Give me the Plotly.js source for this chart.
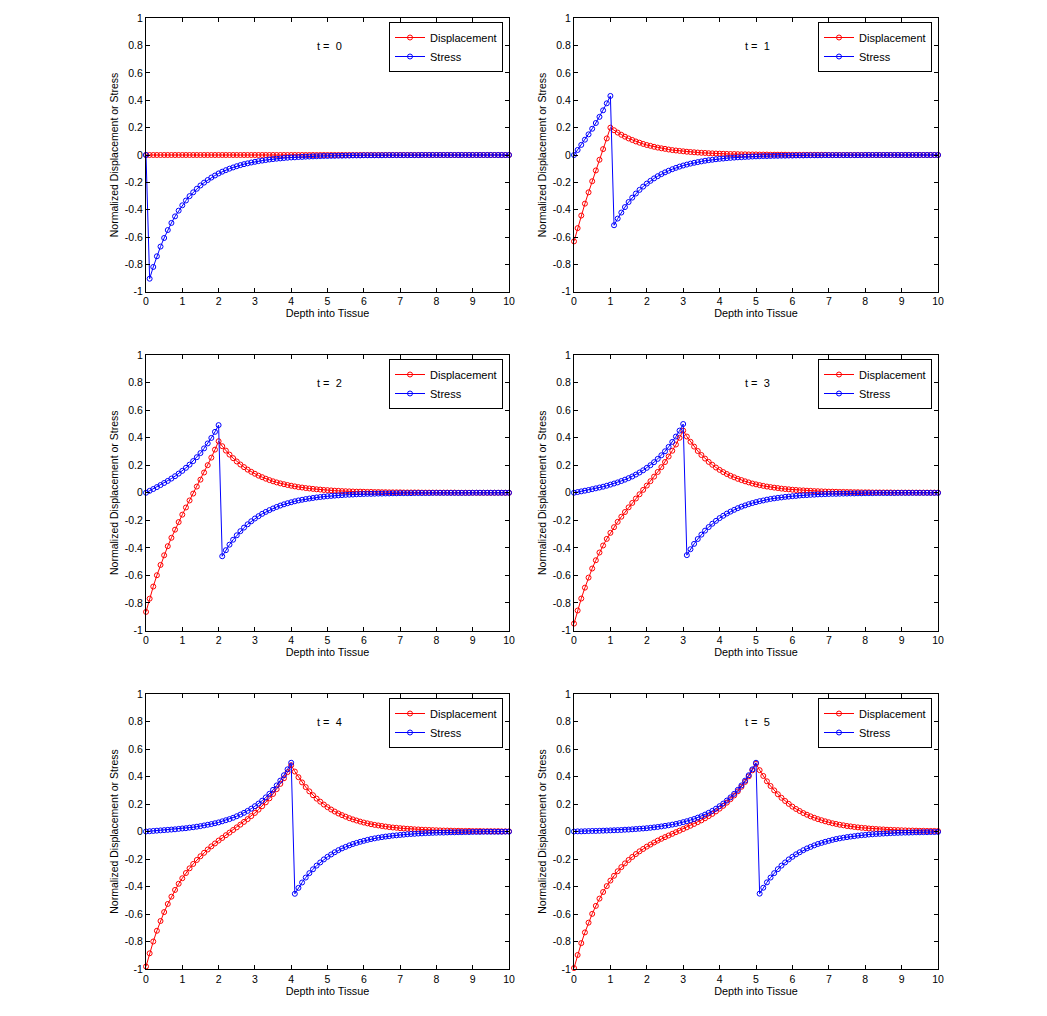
<!DOCTYPE html>
<html><head><meta charset="utf-8">
<script src="https://cdn.plot.ly/plotly-3.0.1.min.js"></script>
<style>html,body{margin:0;padding:0;background:#fff}</style>
</head><body>
<div id="chart" style="width:1047px;height:1016px"></div>
<script>
const depth = [
0,0.1,0.2,0.3,0.4,0.5,0.6,0.7,0.8,0.9,
1,1.1,1.2,1.3,1.4,1.5,1.6,1.7,1.8,1.9,
2,2.1,2.2,2.3,2.4,2.5,2.6,2.7,2.8,2.9,
3,3.1,3.2,3.3,3.4,3.5,3.6,3.7,3.8,3.9,
4,4.1,4.2,4.3,4.4,4.5,4.6,4.7,4.8,4.9,
5,5.1,5.2,5.3,5.4,5.5,5.6,5.7,5.8,5.9,
6,6.1,6.2,6.3,6.4,6.5,6.6,6.7,6.8,6.9,
7,7.1,7.2,7.3,7.4,7.5,7.6,7.7,7.8,7.9,
8,8.1,8.2,8.3,8.4,8.5,8.6,8.7,8.8,8.9,
9,9.1,9.2,9.3,9.4,9.5,9.6,9.7,9.8,9.9,
10];

const timeLabels = ['t =\u00a0 0','t =\u00a0 1','t =\u00a0 2','t =\u00a0 3','t =\u00a0 4','t =\u00a0 5'];

const disp_t0 = [
0,0,0,0,0,0,0,0,0,0,
0,0,0,0,0,0,0,0,0,0,
0,0,0,0,0,0,0,0,0,0,
0,0,0,0,0,0,0,0,0,0,
0,0,0,0,0,0,0,0,0,0,
0,0,0,0,0,0,0,0,0,0,
0,0,0,0,0,0,0,0,0,0,
0,0,0,0,0,0,0,0,0,0,
0,0,0,0,0,0,0,0,0,0,
0,0,0,0,0,0,0,0,0,0,
0];
const stress_t0 = [
0,-0.905,-0.819,-0.741,-0.670,-0.607,-0.549,-0.497,-0.449,-0.407,
-0.368,-0.333,-0.301,-0.273,-0.247,-0.223,-0.202,-0.183,-0.165,-0.150,
-0.135,-0.122,-0.111,-0.100,-0.091,-0.082,-0.074,-0.067,-0.061,-0.055,
-0.050,-0.045,-0.041,-0.037,-0.033,-0.030,-0.027,-0.025,-0.022,-0.020,
-0.018,-0.017,-0.015,-0.014,-0.012,-0.011,-0.010,-0.009,-0.008,-0.007,
-0.007,-0.006,-0.006,-0.005,-0.005,-0.004,-0.004,-0.003,-0.003,-0.003,
-0.002,-0.002,-0.002,-0.002,-0.002,-0.002,-0.001,-0.001,-0.001,-0.001,
-0.001,-0.001,-0.001,-0.001,-0.001,-0.001,0,0,0,0,
0,0,0,0,0,0,0,0,0,0,
0,0,0,0,0,0,0,0,0,0,
0];

const disp_t1 = [
-0.632,-0.535,-0.443,-0.356,-0.273,-0.192,-0.113,-0.035,0.043,0.121,
0.200,0.181,0.164,0.148,0.134,0.121,0.110,0.099,0.090,0.081,
0.073,0.067,0.060,0.054,0.049,0.045,0.040,0.036,0.033,0.030,
0.027,0.024,0.022,0.020,0.018,0.016,0.015,0.013,0.012,0.011,
0.010,0.009,0.008,0.007,0.007,0.006,0.005,0.005,0.004,0.004,
0.004,0.003,0.003,0.003,0.002,0.002,0.002,0.002,0.002,0.001,
0.001,0.001,0.001,0.001,0.001,0.001,0.001,0.001,0.001,0.001,
0,0,0,0,0,0,0,0,0,0,
0,0,0,0,0,0,0,0,0,0,
0,0,0,0,0,0,0,0,0,0,
0];
const stress_t1 = [
0,0.037,0.074,0.112,0.151,0.192,0.234,0.279,0.327,0.378,
0.432,-0.514,-0.465,-0.421,-0.381,-0.344,-0.312,-0.282,-0.255,-0.231,
-0.209,-0.189,-0.171,-0.155,-0.140,-0.127,-0.115,-0.104,-0.094,-0.085,
-0.077,-0.070,-0.063,-0.057,-0.052,-0.047,-0.042,-0.038,-0.035,-0.031,
-0.028,-0.026,-0.023,-0.021,-0.019,-0.017,-0.016,-0.014,-0.013,-0.011,
-0.010,-0.009,-0.008,-0.008,-0.007,-0.006,-0.006,-0.005,-0.005,-0.004,
-0.004,-0.003,-0.003,-0.003,-0.002,-0.002,-0.002,-0.002,-0.002,-0.001,
-0.001,-0.001,-0.001,-0.001,-0.001,-0.001,-0.001,-0.001,-0.001,-0.001,
0,0,0,0,0,0,0,0,0,0,
0,0,0,0,0,0,0,0,0,0,
0];

const disp_t2 = [
-0.865,-0.769,-0.681,-0.599,-0.524,-0.454,-0.388,-0.327,-0.268,-0.213,
-0.159,-0.107,-0.056,-0.006,0.045,0.095,0.147,0.200,0.255,0.313,
0.374,0.338,0.306,0.277,0.251,0.227,0.205,0.186,0.168,0.152,
0.138,0.124,0.113,0.102,0.092,0.083,0.075,0.068,0.062,0.056,
0.051,0.046,0.041,0.038,0.034,0.031,0.028,0.025,0.023,0.020,
0.019,0.017,0.015,0.014,0.012,0.011,0.010,0.009,0.008,0.008,
0.007,0.006,0.006,0.005,0.005,0.004,0.004,0.003,0.003,0.003,
0.003,0.002,0.002,0.002,0.002,0.002,0.001,0.001,0.001,0.001,
0.001,0.001,0.001,0.001,0.001,0.001,0,0,0,0,
0,0,0,0,0,0,0,0,0,0,
0];
const stress_t2 = [
0,0.014,0.027,0.041,0.056,0.071,0.086,0.103,0.120,0.139,
0.159,0.181,0.204,0.230,0.258,0.288,0.322,0.358,0.398,0.442,
0.491,-0.461,-0.417,-0.377,-0.341,-0.309,-0.279,-0.253,-0.229,-0.207,
-0.187,-0.170,-0.153,-0.139,-0.126,-0.114,-0.103,-0.093,-0.084,-0.076,
-0.069,-0.062,-0.056,-0.051,-0.046,-0.042,-0.038,-0.034,-0.031,-0.028,
-0.025,-0.023,-0.021,-0.019,-0.017,-0.015,-0.014,-0.013,-0.011,-0.010,
-0.009,-0.008,-0.008,-0.007,-0.006,-0.006,-0.005,-0.005,-0.004,-0.004,
-0.003,-0.003,-0.003,-0.003,-0.002,-0.002,-0.002,-0.002,-0.002,-0.001,
-0.001,-0.001,-0.001,-0.001,-0.001,-0.001,-0.001,-0.001,-0.001,-0.001,
0,0,0,0,0,0,0,0,0,0,
0];

const disp_t3 = [
-0.950,-0.855,-0.768,-0.689,-0.616,-0.550,-0.490,-0.434,-0.383,-0.335,
-0.291,-0.250,-0.211,-0.174,-0.140,-0.106,-0.074,-0.042,-0.011,0.021,
0.052,0.084,0.117,0.151,0.186,0.223,0.263,0.305,0.350,0.399,
0.451,0.408,0.370,0.335,0.303,0.274,0.248,0.224,0.203,0.183,
0.166,0.150,0.136,0.123,0.112,0.101,0.092,0.083,0.075,0.067,
0.061,0.055,0.050,0.045,0.041,0.037,0.034,0.030,0.027,0.025,
0.022,0.020,0.018,0.017,0.015,0.014,0.012,0.011,0.010,0.009,
0.008,0.008,0.007,0.006,0.006,0.005,0.005,0.004,0.004,0.003,
0.003,0.003,0.002,0.002,0.002,0.002,0.002,0.002,0.001,0.001,
0.001,0.001,0.001,0.001,0.001,0.001,0.001,0.001,0.001,0.001,
0.001];
const stress_t3 = [
0,0.005,0.010,0.015,0.020,0.026,0.032,0.038,0.044,0.051,
0.059,0.067,0.075,0.085,0.095,0.106,0.118,0.132,0.147,0.163,
0.181,0.200,0.222,0.246,0.272,0.301,0.333,0.369,0.408,0.451,
0.499,-0.453,-0.410,-0.371,-0.336,-0.304,-0.275,-0.249,-0.225,-0.204,
-0.184,-0.167,-0.151,-0.137,-0.124,-0.112,-0.101,-0.092,-0.083,-0.075,
-0.068,-0.061,-0.056,-0.050,-0.045,-0.041,-0.037,-0.034,-0.030,-0.028,
-0.025,-0.023,-0.020,-0.018,-0.017,-0.015,-0.014,-0.012,-0.011,-0.010,
-0.009,-0.008,-0.008,-0.007,-0.006,-0.006,-0.005,-0.005,-0.004,-0.004,
-0.003,-0.003,-0.003,-0.002,-0.002,-0.002,-0.002,-0.002,-0.002,-0.001,
-0.001,-0.001,-0.001,-0.001,-0.001,-0.001,-0.001,-0.001,-0.001,-0.001,
-0.001];

const disp_t4 = [
-0.982,-0.886,-0.800,-0.722,-0.651,-0.586,-0.527,-0.474,-0.425,-0.380,
-0.340,-0.302,-0.268,-0.236,-0.207,-0.180,-0.155,-0.131,-0.108,-0.087,
-0.066,-0.047,-0.027,-0.008,0.011,0.030,0.050,0.070,0.090,0.112,
0.135,0.159,0.184,0.212,0.241,0.273,0.308,0.346,0.387,0.432,
0.482,0.436,0.395,0.357,0.323,0.292,0.264,0.239,0.217,0.196,
0.177,0.160,0.145,0.131,0.119,0.108,0.097,0.088,0.080,0.072,
0.065,0.059,0.053,0.048,0.044,0.040,0.036,0.032,0.029,0.027,
0.024,0.022,0.020,0.018,0.016,0.015,0.013,0.012,0.011,0.010,
0.009,0.008,0.007,0.007,0.006,0.005,0.005,0.004,0.004,0.004,
0.003,0.003,0.003,0.002,0.002,0.002,0.002,0.002,0.001,0.001,
0.001];
const stress_t4 = [
0,0.002,0.004,0.006,0.008,0.010,0.012,0.014,0.016,0.019,
0.022,0.024,0.028,0.031,0.035,0.039,0.044,0.049,0.054,0.060,
0.066,0.074,0.082,0.090,0.100,0.111,0.123,0.136,0.150,0.166,
0.184,0.203,0.224,0.248,0.274,0.303,0.335,0.370,0.409,0.452,
0.500,-0.453,-0.410,-0.371,-0.335,-0.303,-0.275,-0.248,-0.225,-0.203,
-0.184,-0.167,-0.151,-0.136,-0.123,-0.112,-0.101,-0.091,-0.083,-0.075,
-0.068,-0.061,-0.055,-0.050,-0.045,-0.041,-0.037,-0.034,-0.030,-0.028,
-0.025,-0.023,-0.020,-0.018,-0.017,-0.015,-0.014,-0.012,-0.011,-0.010,
-0.009,-0.008,-0.008,-0.007,-0.006,-0.006,-0.005,-0.005,-0.004,-0.004,
-0.003,-0.003,-0.003,-0.002,-0.002,-0.002,-0.002,-0.002,-0.002,-0.001,
-0.001];

const disp_t5 = [
-0.993,-0.898,-0.812,-0.734,-0.663,-0.599,-0.541,-0.488,-0.440,-0.397,
-0.357,-0.322,-0.289,-0.259,-0.232,-0.207,-0.185,-0.164,-0.144,-0.127,
-0.110,-0.095,-0.080,-0.066,-0.053,-0.041,-0.029,-0.017,-0.005,0.006,
0.018,0.030,0.042,0.055,0.068,0.081,0.096,0.112,0.128,0.146,
0.166,0.187,0.210,0.235,0.262,0.292,0.325,0.361,0.401,0.445,
0.493,0.446,0.404,0.365,0.331,0.299,0.271,0.245,0.222,0.201,
0.181,0.164,0.149,0.134,0.122,0.110,0.100,0.090,0.082,0.074,
0.067,0.060,0.055,0.049,0.045,0.040,0.037,0.033,0.030,0.027,
0.025,0.022,0.020,0.018,0.016,0.015,0.013,0.012,0.011,0.010,
0.009,0.008,0.007,0.007,0.006,0.005,0.005,0.004,0.004,0.004,
0.003];
const stress_t5 = [
0,0.001,0.001,0.002,0.003,0.004,0.004,0.005,0.006,0.007,
0.008,0.009,0.010,0.011,0.013,0.014,0.016,0.018,0.020,0.022,
0.024,0.027,0.030,0.033,0.037,0.041,0.045,0.050,0.055,0.061,
0.068,0.075,0.083,0.091,0.101,0.111,0.123,0.136,0.150,0.166,
0.184,0.203,0.225,0.248,0.274,0.303,0.335,0.370,0.409,0.452,
0.500,-0.452,-0.409,-0.370,-0.335,-0.303,-0.274,-0.248,-0.225,-0.203,
-0.184,-0.166,-0.151,-0.136,-0.123,-0.112,-0.101,-0.091,-0.083,-0.075,
-0.068,-0.061,-0.055,-0.050,-0.045,-0.041,-0.037,-0.034,-0.030,-0.027,
-0.025,-0.022,-0.020,-0.018,-0.017,-0.015,-0.014,-0.012,-0.011,-0.010,
-0.009,-0.008,-0.008,-0.007,-0.006,-0.006,-0.005,-0.005,-0.004,-0.004,
-0.003];

const seriesNames = ['Displacement','Stress'];
const xTickVals = [0,1,2,3,4,5,6,7,8,9,10];
const xTickText = ['0','1','2','3','4','5','6','7','8','9','10'];
const yTickVals = [-1,-0.8,-0.6,-0.4,-0.2,0,0.2,0.4,0.6,0.8,1];
const yTickText = ['-1','-0.8','-0.6','-0.4','-0.2','0','0.2','0.4','0.6','0.8','1'];

const displacement = [disp_t0, disp_t1, disp_t2, disp_t3, disp_t4, disp_t5];
const stress = [stress_t0, stress_t1, stress_t2, stress_t3, stress_t4, stress_t5];

const FONT = 'Arial, "Liberation Sans", Helvetica, sans-serif';
const W = 1047, H = 1016;
// pixel boxes of the plot areas
const colPx = [[146, 509], [574, 938]];
const rowPx = [[18.3, 291.7], [355, 630.5], [694, 969]];
const legendLeftPx = [389, 818];
const legendTopPx = [22, 359, 698];

const traces = [];
const layout = {
  width: W, height: H,
  margin: {l: 0, r: 0, t: 0, b: 0},
  paper_bgcolor: '#ffffff', plot_bgcolor: '#ffffff',
  font: {family: FONT, size: 10, color: '#000'},
  annotations: [],
  showlegend: true
};

for (let i = 0; i < 6; i++) {
  const col = i % 2, row = Math.floor(i / 2);
  const sfx = i === 0 ? '' : String(i + 1);
  const xa = 'x' + sfx, ya = 'y' + sfx;
  const lg = 'legend' + sfx;
  traces.push({
    x: depth, y: displacement[i], xaxis: xa, yaxis: ya, legend: lg,
    name: seriesNames[0], type: 'scatter', mode: 'lines+markers', cliponaxis: false,
    line: {color: '#ff0000', width: 1},
    marker: {symbol: 'circle-open', size: 5, color: '#ff0000', line: {width: 1, color: '#ff0000'}}
  });
  traces.push({
    x: depth, y: stress[i], xaxis: xa, yaxis: ya, legend: lg,
    name: seriesNames[1], type: 'scatter', mode: 'lines+markers', cliponaxis: false,
    line: {color: '#0000ff', width: 1},
    marker: {symbol: 'circle-open', size: 5, color: '#0000ff', line: {width: 1, color: '#0000ff'}}
  });
  const common = {
    showline: true, linecolor: '#000', linewidth: 1, mirror: 'ticks',
    ticks: 'inside', ticklen: 4, tickwidth: 1, tickcolor: '#000',
    showgrid: false, zeroline: false, automargin: false,
    tickfont: {family: FONT, size: 10.5, color: '#000'}, fixedrange: true
  };
  layout['xaxis' + sfx] = Object.assign({}, common, {
    domain: [colPx[col][0] / W, colPx[col][1] / W], anchor: ya,
    range: [0, 10], tickmode: 'array', tickvals: xTickVals, ticktext: xTickText,
    title: {text: 'Depth into Tissue', font: {family: FONT, size: 10.8, color: '#000'}, standoff: 3}
  });
  layout['yaxis' + sfx] = Object.assign({}, common, {
    domain: [1 - rowPx[row][1] / H, 1 - rowPx[row][0] / H], anchor: xa,
    range: [-1, 1], tickmode: 'array', tickvals: yTickVals, ticktext: yTickText,
    title: {text: 'Normalized Displacement or Stress', font: {family: FONT, size: 10.5, color: '#000'}, standoff: 4}
  });
  layout[lg] = {
    x: legendLeftPx[col] / W, y: 1 - legendTopPx[row] / H, xanchor: 'left', yanchor: 'top',
    xref: 'paper', yref: 'paper',
    bgcolor: '#ffffff', bordercolor: '#000', borderwidth: 1,
    font: {family: FONT, size: 11, color: '#000'}, traceorder: 'normal'
  };
  layout.annotations.push({
    xref: xa, yref: ya, x: 5.05, y: 0.8, text: timeLabels[i], showarrow: false,
    xanchor: 'center', yanchor: 'middle', font: {family: FONT, size: 11, color: '#000'}
  });
}

Plotly.newPlot('chart', traces, layout, {staticPlot: true, displayModeBar: false});
</script>
</body></html>
